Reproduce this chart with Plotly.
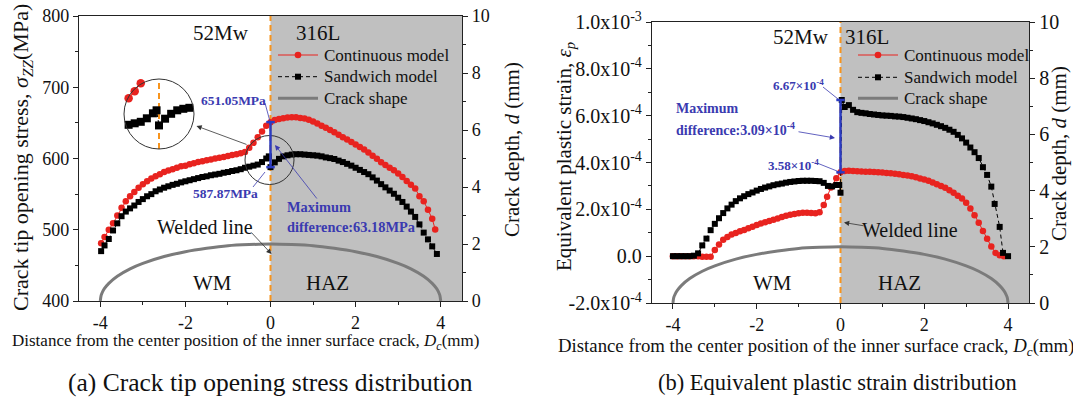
import numpy as np
import plotly.graph_objects as go

W, H = 1073, 401

# ---------------- data ----------------
# (a) crack tip opening stress sigma_zz (MPa) along the crack front, Dc (mm)
dc_a_cont = [-3.98, -3.9, -3.8, -3.7, -3.6, -3.5, -3.4, -3.3, -3.2, -3.1,
             -3.0, -2.9, -2.8, -2.7, -2.6, -2.5, -2.4, -2.3, -2.2, -2.1,
             -2.0, -1.9, -1.8, -1.7, -1.6, -1.5, -1.4, -1.3, -1.2, -1.1,
             -1.0, -0.9, -0.8, -0.7, -0.6, -0.5, -0.4, -0.3, -0.2, -0.1,
             0.0,
             0.1, 0.2, 0.3, 0.4, 0.5, 0.6, 0.7, 0.8, 0.9, 1.0,
             1.1, 1.2, 1.3, 1.4, 1.5, 1.6, 1.7, 1.8, 1.9, 2.0,
             2.1, 2.2, 2.3, 2.4, 2.5, 2.6, 2.7, 2.8, 2.9, 3.0,
             3.1, 3.2, 3.3, 3.4, 3.5, 3.6, 3.7, 3.8, 3.87]
szz_cont = [481, 490, 500, 509, 520, 531, 540, 547, 553, 559,
            564, 568, 572, 575, 578, 581, 583, 585, 587, 589,
            590, 592, 593.5, 595, 596, 597.5, 598.5, 600, 601, 602,
            603.5, 605, 606, 607.5, 609, 615, 622, 630, 638, 646,
            651.05,
            654, 655.5, 656.5, 657.5, 658, 658, 657, 656, 654.5, 652,
            649, 646, 643, 640, 637, 633.5, 630, 626.5, 623, 619.5,
            616, 612.5, 608.5, 604, 599.5, 594.6, 591, 587, 583.5, 579,
            574, 568.5, 563, 558, 547, 540, 528, 515.5, 500.4]

dc_a_sand = [-3.98, -3.9, -3.8, -3.7, -3.6, -3.5, -3.4, -3.3, -3.2, -3.1,
             -3.0, -2.9, -2.8, -2.7, -2.6, -2.5, -2.4, -2.3, -2.2, -2.1,
             -2.0, -1.9, -1.8, -1.7, -1.6, -1.5, -1.4, -1.3, -1.2, -1.1,
             -1.0, -0.9, -0.8, -0.7, -0.6, -0.5, -0.4, -0.3, -0.2, -0.1,
             -0.04, 0.0,
             0.1, 0.2, 0.3, 0.4, 0.5, 0.6, 0.7, 0.8, 0.9, 1.0,
             1.1, 1.2, 1.3, 1.4, 1.5, 1.6, 1.7, 1.8, 1.9, 2.0,
             2.1, 2.2, 2.3, 2.4, 2.5, 2.6, 2.7, 2.8, 2.9, 3.0,
             3.1, 3.2, 3.3, 3.4, 3.5, 3.6, 3.7, 3.8, 3.91]
szz_sand = [470, 478, 487, 499, 509, 519, 525.5, 530, 534, 539,
            543, 547, 550, 554, 556.5, 559, 561, 563, 564.5, 566.5,
            568, 569.5, 571, 572.5, 574, 575, 576.5, 577.5, 578.5, 580,
            581, 582.5, 583.5, 585, 587, 588.5, 590, 591.5, 595, 600,
            603, 587.87,
            594.6, 599.5, 603, 604.5, 605.5, 606, 606, 605.5, 605, 604.5,
            604, 603, 601.5, 600.5, 599.3, 597, 595, 592.5, 590, 587,
            584, 581, 578, 573.5, 569, 564, 559.5, 555, 550.5, 545,
            539, 532.5, 525.5, 518, 507.5, 496, 486.5, 476.7, 466]

# (b) equivalent plastic strain (unit: 1e-4) along the crack front, Dc (mm)
dc_b_cont = [-4.0, -3.9, -3.8, -3.7, -3.6, -3.5, -3.4, -3.3, -3.2, -3.1,
             -3.0, -2.9, -2.8, -2.7, -2.6, -2.5, -2.4, -2.3, -2.2, -2.1,
             -2.0, -1.9, -1.8, -1.7, -1.6, -1.5, -1.4, -1.3, -1.2, -1.1,
             -1.0, -0.9, -0.8, -0.7, -0.6, -0.5, -0.4, -0.32, -0.23, -0.1,
             0.0,
             0.1, 0.2, 0.3, 0.4, 0.5, 0.6, 0.7, 0.8, 0.9, 1.0,
             1.1, 1.2, 1.3, 1.4, 1.5, 1.6, 1.7, 1.8, 1.9, 2.0,
             2.1, 2.2, 2.3, 2.4, 2.5, 2.6, 2.7, 2.8, 2.9, 3.0,
             3.1, 3.2, 3.3, 3.4, 3.5, 3.6, 3.7, 3.8, 3.9]
ep_cont = [0, 0, 0, 0, 0, 0, 0, -0.02, -0.03, -0.02,
           0.26, 0.5, 0.7, 0.82, 0.92, 0.99, 1.06, 1.12, 1.19, 1.26,
           1.33, 1.4, 1.45, 1.5, 1.56, 1.61, 1.67, 1.73, 1.77, 1.8,
           1.83, 1.85, 1.85, 1.84, 1.83, 1.88, 2.18, 2.54, 2.93, 3.33,
           3.58,
           3.64, 3.65, 3.64, 3.63, 3.62, 3.61, 3.6, 3.59, 3.58, 3.57,
           3.55, 3.54, 3.52, 3.5, 3.47, 3.44, 3.41, 3.37, 3.32, 3.27,
           3.22, 3.15, 3.07, 3.0, 2.92, 2.82, 2.71, 2.58, 2.46, 2.28,
           2.04, 1.75, 1.43, 1.08, 0.74, 0.41, 0.14, 0.04, 0.0]

dc_b_sand = [-4.0, -3.9, -3.8, -3.7, -3.6, -3.5, -3.4, -3.3, -3.2, -3.1,
             -3.0, -2.9, -2.8, -2.7, -2.6, -2.5, -2.4, -2.3, -2.2, -2.1,
             -2.0, -1.9, -1.8, -1.7, -1.6, -1.5, -1.4, -1.3, -1.2, -1.1,
             -1.0, -0.9, -0.8, -0.7, -0.6, -0.5, -0.4, -0.3, -0.2, -0.1,
             -0.03, 0.0, 0.03,
             0.1, 0.2, 0.3, 0.4, 0.5, 0.6, 0.7, 0.8, 0.9, 1.0,
             1.1, 1.2, 1.3, 1.4, 1.5, 1.6, 1.7, 1.8, 1.9, 2.0,
             2.1, 2.2, 2.3, 2.4, 2.5, 2.6, 2.7, 2.8, 2.9, 3.0,
             3.1, 3.2, 3.3, 3.4, 3.5, 3.6, 3.68, 3.8, 3.88, 4.0]
ep_sand = [0, 0, 0, 0, 0, 0.02, 0.12, 0.46, 0.75, 1.11,
           1.38, 1.62, 1.84, 2.04, 2.2, 2.35, 2.47, 2.56, 2.65, 2.72,
           2.8, 2.87, 2.93, 2.98, 3.03, 3.07, 3.1, 3.14, 3.17, 3.19,
           3.21, 3.22, 3.22, 3.22, 3.21, 3.2, 3.13, 3.0, 2.98, 3.04,
           3.04, 2.71, 6.67,
           6.37, 6.45, 6.25, 6.15, 6.12, 6.1, 6.07, 6.05, 6.03, 6.01,
           6.0, 5.99, 5.97, 5.96, 5.94, 5.91, 5.88, 5.85, 5.81, 5.77,
           5.72, 5.67, 5.61, 5.55, 5.48, 5.4, 5.31, 5.18, 5.03, 4.85,
           4.64, 4.44, 4.19, 3.8, 3.47, 2.97, 2.23, 1.25, 0.14, 0.0]

# crack front shape: depth d (mm) against Dc (mm)
crack_x = [-4.0, -3.98, -3.95, -3.9, -3.8, -3.6, -3.3, -3.0, -2.5, -2.0, -1.5, -1.0, -0.5,
           0.0, 0.5, 1.0, 1.5, 2.0, 2.5, 3.0, 3.3, 3.6, 3.8, 3.9, 3.95, 3.98, 4.0]
crack_d = [0.0, 0.2, 0.31, 0.44, 0.62, 0.87, 1.13, 1.32, 1.56, 1.73, 1.85, 1.94, 1.98,
           2.0, 1.98, 1.94, 1.85, 1.73, 1.56, 1.32, 1.13, 0.87, 0.62, 0.44, 0.31, 0.2, 0.0]

# values quoted at the weld interface
SZZ_HIGH, SZZ_LOW = 651.05, 587.87
EP_HIGH, EP_LOW = 6.67, 3.58

series_names = ["Continuous model", "Sandwich model", "Crack shape"]
x_ticks = [-4, -2, 0, 2, 4]
x_tick_text = ["-4", "-2", "0", "2", "4"]
ep_ticks = [-2, 0, 2, 4, 6, 8, 10]
ep_tick_text = ["-2.0x10<sup>-4</sup>", "0.0", "2.0x10<sup>-4</sup>", "4.0x10<sup>-4</sup>",
                "6.0x10<sup>-4</sup>", "8.0x10<sup>-4</sup>", "1.0x10<sup>-3</sup>"]
depth_ticks = [0, 2, 4, 6, 8, 10]

# ---------------- styling ----------------
RED = "#e8231f"
BLACK = "#000000"
GREY = "#7b7b7b"
ORANGE = "#f7941d"
SHADE = "#c0c0c0"
BLUE_TXT = "#3a3ab0"
BLUE_BAR = "#2b3bc2"
AXC = "#222222"
SERIF = "Liberation Serif"
BLACK_DASH = "4px,3px"


def fx(p):
    return p / W


def fy(p):
    return 1 - p / H


fig = go.Figure()


def add_series(xs, ys, xa, ya, small=False):
    ms_c, ms_s = (8.5, 8) if small else (6.5, 6)
    fig.add_trace(go.Scatter(
        x=xs[0], y=ys[0], xaxis=xa, yaxis=ya, mode="lines+markers",
        name=series_names[0], showlegend=False,
        line=dict(color=RED, width=1),
        marker=dict(symbol="circle", size=ms_c, color=RED)))
    fig.add_trace(go.Scatter(
        x=xs[1], y=ys[1], xaxis=xa, yaxis=ya, mode="lines+markers",
        name=series_names[1], showlegend=False,
        line=dict(color=BLACK, width=1, dash=BLACK_DASH),
        marker=dict(symbol="square", size=ms_s, color=BLACK)))


def add_crack(xa, ya):
    fig.add_trace(go.Scatter(x=crack_x, y=crack_d, xaxis=xa, yaxis=ya, mode="lines",
                             name=series_names[2], showlegend=False,
                             line=dict(color=GREY, width=3, shape="spline", smoothing=0.8)))


# panel (a)
add_series((dc_a_cont, dc_a_sand), (szz_cont, szz_sand), "x", "y")
add_crack("x", "y2")
# panel (b)
add_series((dc_b_cont, dc_b_sand), (ep_cont, ep_sand), "x2", "y3")
add_crack("x2", "y4")

# magnified view of the interface jump in panel (a)
IC_X, IC_Y, IC_R = 159.0, 114.0, 35.0          # inset circle (px)
IN_XR = (-0.576, 0.576)
IN_YC, IN_YH = 599.3, 35.0
in_sx = 2 * IC_R / (IN_XR[1] - IN_XR[0])
in_sy = 2 * IC_R / (2 * IN_YH)


def in_circle(xs, ys):
    xs = np.asarray(xs, float)
    ys = np.asarray(ys, float)
    px = IC_X + xs * in_sx
    py = IC_Y - (ys - IN_YC) * in_sy
    keep = np.hypot(px - IC_X, py - IC_Y) < IC_R + 1.0
    return xs[keep], ys[keep]


ix_c, iy_c = in_circle(dc_a_cont, szz_cont)
ix_s, iy_s = in_circle(dc_a_sand, szz_sand)
add_series((ix_c, ix_s), (iy_c, iy_s), "x3", "y5", small=True)

# ---------------- axes ----------------
tick_font = dict(family=SERIF, size=18, color="#111")
tick_font_b = dict(family=SERIF, size=20, color="#111")
common = dict(showline=True, linecolor=AXC, linewidth=1.3, ticks="outside", ticklen=5,
              tickwidth=1.2, tickcolor=AXC, showgrid=False, zeroline=False, automargin=False)


def minor(vals):
    return dict(tickvals=vals, ticks="outside", ticklen=3, tickwidth=1, tickcolor=AXC, showgrid=False)


fig.update_layout(
    xaxis=dict(domain=[fx(79), fx(462)], anchor="y", range=[-4.5, 4.5], tickmode="array",
               tickvals=x_ticks, ticktext=x_tick_text, minor=minor([-3, -1, 1, 3]),
               mirror=True, tickfont=tick_font, **common),
    yaxis=dict(domain=[fy(301), fy(16)], anchor="x", range=[400, 800], tickmode="array",
               tickvals=[400, 500, 600, 700, 800], minor=minor([450, 550, 650, 750]),
               mirror=True, tickfont=tick_font, **common),
    yaxis2=dict(overlaying="y", anchor="x", side="right", range=[0, 10], tickmode="array",
                tickvals=depth_ticks, minor=minor([1, 3, 5, 7, 9]),
                tickfont=tick_font, **common),
    xaxis2=dict(domain=[fx(652), fx(1029)], anchor="y3", range=[-4.5, 4.5], tickmode="array",
                tickvals=x_ticks, ticktext=x_tick_text, minor=minor([-3, -1, 1, 3]),
                mirror=True, tickfont=tick_font, **common),
    yaxis3=dict(domain=[fy(303), fy(22)], anchor="x2", range=[-2, 10], tickmode="array",
                tickvals=ep_ticks, ticktext=ep_tick_text, minor=minor([-1, 1, 3, 5, 7, 9]),
                mirror=True, tickfont=tick_font_b, **common),
    yaxis4=dict(overlaying="y3", anchor="x2", side="right", range=[0, 10], tickmode="array",
                tickvals=depth_ticks, minor=minor([1, 3, 5, 7, 9]),
                tickfont=tick_font_b, **common),
    xaxis3=dict(domain=[fx(IC_X - IC_R), fx(IC_X + IC_R)], anchor="y5", range=list(IN_XR),
                visible=False, showgrid=False, zeroline=False, automargin=False),
    yaxis5=dict(domain=[fy(IC_Y + IC_R), fy(IC_Y - IC_R)], anchor="x3",
                range=[IN_YC - IN_YH, IN_YC + IN_YH], visible=False, showgrid=False,
                zeroline=False, automargin=False),
)

# ---------------- shapes ----------------
shapes = []
for xa, ya in (("x", "y"), ("x2", "y3")):
    shapes.append(dict(type="rect", xref=xa, yref=f"{ya} domain", x0=0, x1=4.5, y0=0, y1=1,
                       fillcolor=SHADE, line=dict(width=0), layer="below"))
    shapes.append(dict(type="line", xref=xa, yref=f"{ya} domain", x0=0, x1=0, y0=0, y1=1,
                       line=dict(color=ORANGE, width=2, dash="6px,4px"), layer="below"))
shapes.append(dict(type="line", xref="x3", yref="y5 domain", x0=0, x1=0, y0=0, y1=1,
                   line=dict(color=ORANGE, width=2, dash="6px,4px"), layer="below"))

# circles: detail region and its magnified view
shapes.append(dict(type="circle", xref="paper", yref="paper",
                   x0=fx(245), x1=fx(294), y0=fy(184.5), y1=fy(135.5),
                   line=dict(color="#333", width=1)))
shapes.append(dict(type="circle", xref="paper", yref="paper",
                   x0=fx(IC_X - IC_R), x1=fx(IC_X + IC_R), y0=fy(IC_Y + IC_R), y1=fy(IC_Y - IC_R),
                   line=dict(color="#333", width=1)))


def diff_bar(xa, ya, lo, hi, cap):
    shapes.append(dict(type="line", xref=xa, yref=ya, x0=0, x1=0, y0=lo, y1=hi,
                       line=dict(color=BLUE_BAR, width=2.5)))
    for v in (lo, hi):
        shapes.append(dict(type="line", xref=xa, yref=ya, x0=-cap, x1=cap, y0=v, y1=v,
                           line=dict(color=BLUE_BAR, width=2.5)))


diff_bar("x", "y", SZZ_LOW, SZZ_HIGH, 0.1)
diff_bar("x2", "y3", EP_LOW, EP_HIGH, 0.1)


def leader(x0, y0, x1, y1, color=BLUE_TXT):
    shapes.append(dict(type="line", xref="paper", yref="paper", x0=fx(x0), y0=fy(y0),
                       x1=fx(x1), y1=fy(y1), line=dict(color=color, width=0.8)))


leader(265, 103, 270, 121.5)
leader(253, 187, 265, 172)
leader(823, 87, 838, 99)
leader(817, 163, 837, 171)

# ---------------- annotations ----------------
ann = []


def txt(x, y, s, size, color="#111", xanchor="center", angle=0):
    ann.append(dict(x=fx(x), y=fy(y), xref="paper", yref="paper", text=s, showarrow=False,
                    font=dict(family=SERIF, size=size, color=color),
                    xanchor=xanchor, yanchor="middle", textangle=angle))


def arrow(hx, hy, tx, ty, color):
    ann.append(dict(x=fx(hx), y=fy(hy), xref="paper", yref="paper", ax=tx - hx, ay=ty - hy,
                    text="", showarrow=True, arrowhead=2, arrowsize=1.3, arrowwidth=0.8,
                    arrowcolor=color))


# legend drawn as symbol shapes plus labels
def legend_block(x0, rows_y):
    x1 = x0 + 40
    xm = (x0 + x1) / 2
    yr, yb, yg = rows_y
    shapes.append(dict(type="line", xref="paper", yref="paper", x0=fx(x0), x1=fx(x1),
                       y0=fy(yr), y1=fy(yr), line=dict(color=RED, width=1)))
    shapes.append(dict(type="circle", xref="paper", yref="paper", fillcolor=RED,
                       x0=fx(xm - 3.3), x1=fx(xm + 3.3), y0=fy(yr + 3.3), y1=fy(yr - 3.3),
                       line=dict(color=RED, width=0)))
    shapes.append(dict(type="line", xref="paper", yref="paper", x0=fx(x0), x1=fx(x1),
                       y0=fy(yb), y1=fy(yb), line=dict(color=BLACK, width=1, dash=BLACK_DASH)))
    shapes.append(dict(type="rect", xref="paper", yref="paper", fillcolor=BLACK,
                       x0=fx(xm - 3), x1=fx(xm + 3), y0=fy(yb + 3), y1=fy(yb - 3),
                       line=dict(color=BLACK, width=0)))
    shapes.append(dict(type="line", xref="paper", yref="paper", x0=fx(x0), x1=fx(x1),
                       y0=fy(yg), y1=fy(yg), line=dict(color=GREY, width=3)))
    for name, yy in zip(series_names, rows_y):
        txt(x1 + 3.5, yy, name, 17, xanchor="left")


legend_block(278, (55, 76.7, 98.3))
legend_block(858, (55, 77.3, 98.3))

# panel (a)
txt(220.5, 33.5, "52Mw", 21)
txt(317.5, 33.5, "316L", 21)
txt(233, 100, f"<b>{SZZ_HIGH:.2f}MPa</b>", 13.5, BLUE_TXT)
txt(225, 193, f"<b>{SZZ_LOW:.2f}MPa</b>", 13.5, BLUE_TXT)
txt(285, 207, "<b>Maximum</b>", 14.4, BLUE_TXT, xanchor="left")
txt(285, 227, f"<b>difference:{SZZ_HIGH - SZZ_LOW:.2f}MPa</b>", 14.4, BLUE_TXT, xanchor="left")
arrow(275, 145, 318, 200, BLUE_TXT)
txt(205, 227, "Welded line", 20)
arrow(271.5, 254, 250, 231, "#333")
arrow(196.5, 126, 248, 145, "#333")
txt(212, 283, "WM", 21)
txt(327.5, 283, "HAZ", 21)
txt(22, 158, "Crack tip opening stress, <i>σ</i><sub><i>ZZ</i></sub>(MPa)", 22, angle=-90)
txt(512, 150, "Crack depth, <i>d</i> (mm)", 21, angle=-90)
txt(245.5, 342, "Distance from the center position of the inner surface crack, <i>D</i><sub><i>c</i></sub>(mm)", 17)
txt(270, 382, "(a) Crack tip opening stress distribution", 25.5)

# panel (b)
txt(801, 37, "52Mw", 21)
txt(867, 37, "316L", 21)
txt(798, 85, f"<b>{EP_HIGH:.2f}×10<sup>-4</sup></b>", 13, BLUE_TXT)
txt(793, 165, f"<b>{EP_LOW:.2f}×10<sup>-4</sup></b>", 13, BLUE_TXT)
txt(674, 108, "<b>Maximum</b>", 14, BLUE_TXT, xanchor="left")
txt(674, 129, f"<b>difference:{EP_HIGH - EP_LOW:.2f}×10<sup>-4</sup></b>", 14, BLUE_TXT, xanchor="left")
arrow(835, 138, 797, 131.5, BLUE_TXT)
txt(910, 230, "Welded line", 20)
arrow(844, 222.5, 865, 226, "#333")
txt(772, 283, "WM", 21)
txt(899, 283, "HAZ", 21)
txt(565, 157, "Equivalent plastic strain, <i>ε</i><sub><i>p</i></sub>", 21, angle=-90)
txt(1059, 154, "Crack depth, <i>d</i> (mm)", 21, angle=-90)
txt(816, 347, "Distance from the center position of the inner surface crack, <i>D</i><sub><i>c</i></sub>(mm)", 18.8)
txt(837.5, 382, "(b) Equivalent plastic strain distribution", 22.5)

fig.update_layout(
    width=W, height=H, margin=dict(l=0, r=0, t=0, b=0),
    paper_bgcolor="white", plot_bgcolor="rgba(0,0,0,0)",
    shapes=shapes, annotations=ann, showlegend=False,
    font=dict(family=SERIF, color="#111"),
)

fig.write_html("out.html")
